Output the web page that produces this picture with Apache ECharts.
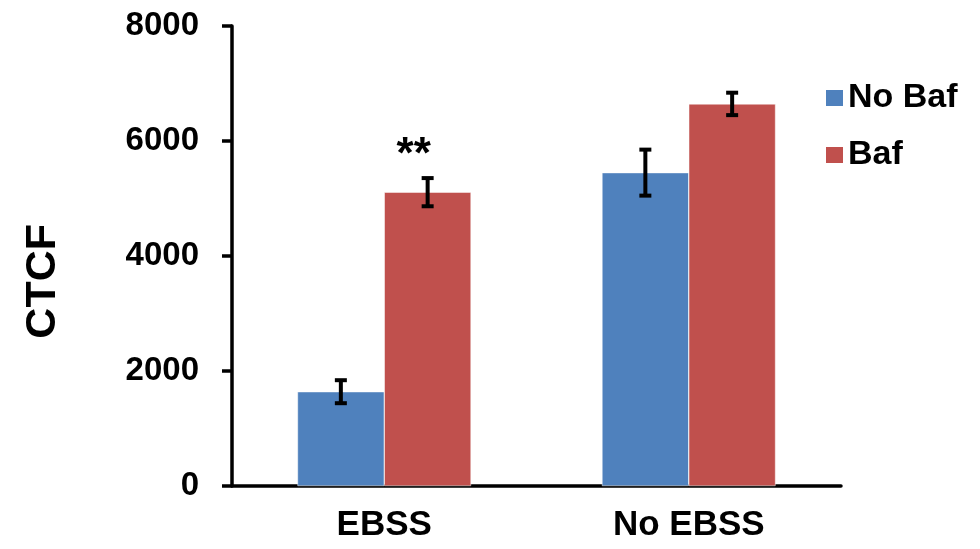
<!DOCTYPE html>
<html>
<head>
<meta charset="utf-8">
<script src="https://cdn.jsdelivr.net/npm/echarts@6/dist/echarts.min.js"></script>
<style>html,body{margin:0;padding:0;background:#fff;}#c{width:980px;height:549px;}</style>
</head>
<body>
<div id="c"></div>
<script>
var categories = ['EBSS', 'No EBSS'];
var seriesNames = ['No Baf', 'Baf'];
var noBafValues = [1640, 5450];
var bafValues = [5110, 6645];
var noBafErrors = [200, 400];
var bafErrors = [245, 195];
var yTicks = [0, 2000, 4000, 6000, 8000];
var significance = ['**', ''];

var FONT = '"Liberation Sans", Arial, sans-serif';
var chart = echarts.init(document.getElementById('c'));

function errData(vals, errs) {
  return vals.map(function (v, i) { return [i, v - errs[i], v + errs[i]]; });
}
function errRender(side) {
  return function (params, api) {
    var ci = api.value(0);
    var lo = api.coord([ci, api.value(1)]);
    var hi = api.coord([ci, api.value(2)]);
    var bw = api.size([1, 0])[0] * 0.57 / 2;
    var x = lo[0] + side * bw / 2;
    var cap = 6;
    var st = { stroke: '#000', lineWidth: 4 };
    return {
      type: 'group',
      children: [
        { type: 'line', shape: { x1: x, y1: lo[1], x2: x, y2: hi[1] }, style: st },
        { type: 'line', shape: { x1: x - cap, y1: lo[1], x2: x + cap, y2: lo[1] }, style: st },
        { type: 'line', shape: { x1: x - cap, y1: hi[1], x2: x + cap, y2: hi[1] }, style: st }
      ]
    };
  };
}

chart.setOption({
  animation: false,
  backgroundColor: '#fff',
  textStyle: { fontFamily: FONT },
  grid: { left: 232, right: 139, top: 26, bottom: 63 },
  legend: {
    orient: 'vertical',
    left: 819,
    top: 73,
    itemWidth: 19,
    itemHeight: 18,
    itemGap: 17,
    icon: 'rect',
    data: seriesNames,
    textStyle: { fontFamily: FONT, fontSize: 34, fontWeight: 'bold', color: '#000', lineHeight: 40, padding: [0, 0, 0, -1] }
  },
  xAxis: {
    type: 'category',
    data: categories,
    axisLine: { lineStyle: { color: '#000', width: 3.5 } },
    axisTick: { length: 10, lineStyle: { color: '#000', width: 3.5 } },
    axisLabel: { color: '#000', fontSize: 35, fontWeight: 'bold', fontFamily: FONT, margin: 22 }
  },
  yAxis: {
    type: 'value',
    min: 0,
    max: 8000,
    interval: 2000,
    splitLine: { show: false },
    axisLine: { show: true, lineStyle: { color: '#000', width: 3.5 } },
    axisTick: { show: true, length: 10, lineStyle: { color: '#000', width: 3.5 } },
    axisLabel: {
      color: '#000', fontSize: 33, fontWeight: 'bold', fontFamily: FONT, margin: 33,
      formatter: function (v) { return yTicks.indexOf(v) >= 0 ? String(v) : ''; }
    }
  },
  graphic: [{
    type: 'text',
    left: 22,
    top: 224,
    rotation: Math.PI / 2,
    style: { text: 'CTCF', fontSize: 43, fontWeight: 'bold', fontFamily: FONT, fill: '#000' }
  }],
  series: [
    {
      name: seriesNames[0], type: 'bar', data: noBafValues,
      barCategoryGap: '43%', barGap: '0%',
      itemStyle: { color: '#4F81BD', borderColor: '#fff', borderWidth: 0.5 }
    },
    {
      name: seriesNames[1], type: 'bar',
      data: bafValues.map(function (v, i) {
        return {
          value: v,
          label: {
            show: significance[i] !== '',
            position: 'top',
            formatter: significance[i],
            fontSize: 44, fontWeight: 'bold', color: '#000', fontFamily: FONT,
            distance: 14, offset: [-14, 0]
          }
        };
      }),
      barCategoryGap: '43%', barGap: '0%',
      itemStyle: { color: '#C0504D', borderColor: '#fff', borderWidth: 0.5 }
    },
    { type: 'custom', data: errData(noBafValues, noBafErrors), renderItem: errRender(-1), z: 10, silent: true },
    { type: 'custom', data: errData(bafValues, bafErrors), renderItem: errRender(1), z: 10, silent: true }
  ]
});
</script>
</body>
</html>
